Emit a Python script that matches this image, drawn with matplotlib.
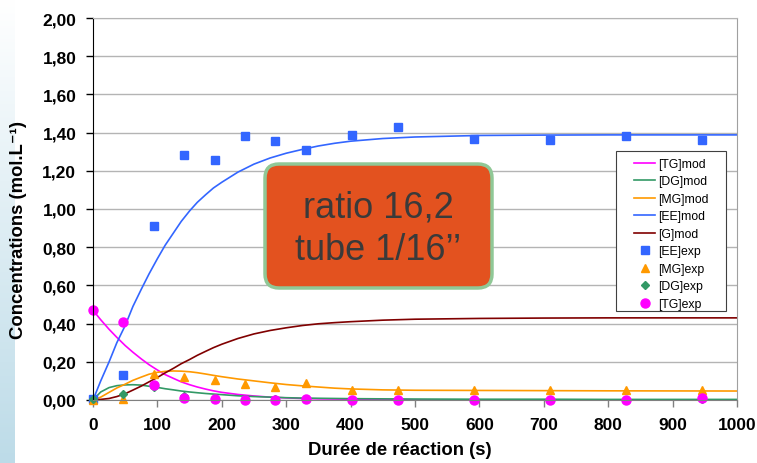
import numpy as np
import matplotlib.pyplot as plt
from matplotlib.patches import FancyBboxPatch, Rectangle
from matplotlib.transforms import IdentityTransform
from matplotlib.ticker import FuncFormatter

plt.rcParams['font.family'] = ['Liberation Sans', 'DejaVu Sans']

# model curves
t_mod = [0, 12, 25, 37, 50, 62, 75, 87, 100, 112, 125, 137, 150, 162, 175, 187, 200,
         225, 250, 275, 300, 325, 350, 375, 400, 450, 500, 600, 700, 800, 1000]
TG_mod = [0.47, 0.42, 0.37, 0.328, 0.285, 0.25, 0.215, 0.185, 0.157, 0.133, 0.113, 0.095, 0.08,
          0.068, 0.057, 0.048, 0.04, 0.029, 0.021, 0.015, 0.011, 0.008, 0.006, 0.005, 0.004,
          0.002, 0.001, 0.0, 0.0, 0.0, 0.0]
DG_mod = [0.0, 0.042, 0.065, 0.075, 0.079, 0.08, 0.078, 0.072, 0.066, 0.059, 0.053, 0.047, 0.042,
          0.038, 0.034, 0.031, 0.028, 0.022, 0.018, 0.015, 0.012, 0.01, 0.009, 0.008, 0.007,
          0.006, 0.005, 0.004, 0.004, 0.003, 0.003]
MG_mod = [0.0, 0.015, 0.04, 0.063, 0.083, 0.103, 0.12, 0.135, 0.145, 0.15, 0.152, 0.151, 0.148,
          0.143, 0.136, 0.129, 0.122, 0.11, 0.1, 0.09, 0.081, 0.074, 0.068, 0.062, 0.058,
          0.053, 0.051, 0.05, 0.049, 0.048, 0.047]
EE_mod = [0.0, 0.1, 0.2, 0.3, 0.39, 0.49, 0.58, 0.66, 0.74, 0.81, 0.875, 0.935, 0.99,
          1.035, 1.075, 1.11, 1.14, 1.193, 1.235, 1.267, 1.292, 1.312, 1.33, 1.344, 1.355,
          1.369, 1.377, 1.385, 1.387, 1.388, 1.388]
G_mod = [0.0, 0.003, 0.008, 0.018, 0.033, 0.052, 0.073, 0.095, 0.118, 0.142, 0.166, 0.19, 0.212,
         0.234, 0.255, 0.274, 0.292, 0.322, 0.346, 0.364, 0.378, 0.39, 0.399, 0.405, 0.41,
         0.418, 0.423, 0.427, 0.429, 0.43, 0.43]

# experimental points
t_exp = [0, 47, 95, 142, 189, 236, 283, 331, 402, 473, 591, 709, 827, 945]
EE_exp = [0.005, 0.13, 0.91, 1.285, 1.255, 1.38, 1.355, 1.31, 1.385, 1.43, 1.365, 1.36, 1.38, 1.36]
MG_exp = [0.0, 0.005, 0.135, 0.118, 0.104, 0.082, 0.066, 0.088, 0.054, 0.054, 0.05, 0.05, 0.05, 0.052]
DG_exp = [0.005, 0.03, 0.07, 0.02, 0.008, 0.004, 0.003, 0.004, 0.002, 0.002, 0.002, 0.002, 0.002, 0.005]
TG_exp = [0.47, 0.41, 0.08, 0.01, 0.005, 0.0, 0.0, 0.005, 0.0, 0.0, 0.0, 0.0, 0.0, 0.01]

fig = plt.figure(figsize=(7.57, 4.64), dpi=100)

# gradient strip on the left
strip = fig.add_axes([0, 0, 14 / 757, 1])
grad = np.linspace(0, 1, 256).reshape(-1, 1)
c_top = np.array([1.0, 1.0, 1.0])
c_bot = np.array([0.74, 0.86, 0.91])
img = c_top + (c_bot - c_top) * grad[:, :, None]
strip.imshow(img, aspect='auto', origin='upper')
strip.axis('off')

ax = fig.add_axes([93 / 757, 1 - 401 / 464, 644 / 757, 382 / 464])

lw = 1.2
ax.plot(t_mod, TG_mod, color='#FF00FF', lw=lw, label='[TG]mod')
ax.plot(t_mod, DG_mod, color='#339966', lw=lw, label='[DG]mod')
ax.plot(t_mod, MG_mod, color='#FF9900', lw=lw, label='[MG]mod')
ax.plot(t_mod, EE_mod, color='#3366FF', lw=lw, label='[EE]mod')
ax.plot(t_mod, G_mod, color='#800000', lw=lw, label='[G]mod')

ax.plot(t_exp, EE_exp, 's', color='#3366FF', ms=6, label='[EE]exp', clip_on=False)
ax.plot(t_exp, MG_exp, '^', color='#FF9900', ms=6, label='[MG]exp', clip_on=False)
ax.plot(t_exp, DG_exp, 'D', color='#339966', ms=4, label='[DG]exp', clip_on=False)
ax.plot(t_exp, TG_exp, 'o', color='#FF00FF', ms=6.5, label='[TG]exp', clip_on=False)

ax.set_xlim(0, 1000)
ax.set_ylim(0, 2.0)
ax.set_xticks(np.arange(0, 1001, 100))
ax.set_yticks(np.arange(0, 2.01, 0.2))
ax.yaxis.set_major_formatter(FuncFormatter(lambda v, p: f"{v:.2f}".replace('.', ',')))
ax.grid(axis='y', color='#b4b4b4', lw=1)
ax.set_axisbelow(True)

for lab in ax.get_xticklabels() + ax.get_yticklabels():
    lab.set_fontweight('bold')
ax.tick_params(axis='both', labelsize=12.5, length=5, width=1, pad=7)
ax.tick_params(axis='x', colors='#808080', labelcolor='black')

ax.spines['left'].set_color('black')
ax.spines['bottom'].set_color('#808080')
ax.spines['top'].set_color('#b4b4b4')
ax.spines['right'].set_color('#a0a0a0')

ax.set_xlabel('Durée de réaction (s)', fontsize=13.3, fontweight='bold')
ax.xaxis.set_label_coords(0.477, -0.108)
ax.set_ylabel('Concentrations (mol.L\u207b\u00b9)', fontsize=13.3, fontweight='bold')
ax.yaxis.set_label_coords(-0.1025, 0.448)

# legend frame, drawn in pixels inside the axes
frame = Rectangle((616, 464 - 312), 110, 160, transform=IdentityTransform(),
                  facecolor='white', edgecolor='#404040', lw=0.8, zorder=4, clip_on=False)
ax.add_patch(frame)

leg = ax.legend(loc='upper left', bbox_to_anchor=(0.840, 0.634), borderaxespad=0,
                fontsize=8.8, labelspacing=0.45, handlelength=1.75, handletextpad=0.2,
                borderpad=0, frameon=False)
leg.set_zorder(5)

# annotation box
box = FancyBboxPatch((265, 175), 227, 124, boxstyle='round,pad=0,rounding_size=14',
                     transform=IdentityTransform(), facecolor='#E3521F',
                     edgecolor='#90C896', lw=2.5, zorder=5)
fig.patches.append(box)
fig.text(378.5 / 757, 1 - 229 / 464, 'ratio 16,2\ntube 1/16\u2019\u2019', ha='center', va='center',
         fontsize=26, color='#3a3a3a', linespacing=1.28, zorder=6)

plt.savefig('out.png', dpi=100)
